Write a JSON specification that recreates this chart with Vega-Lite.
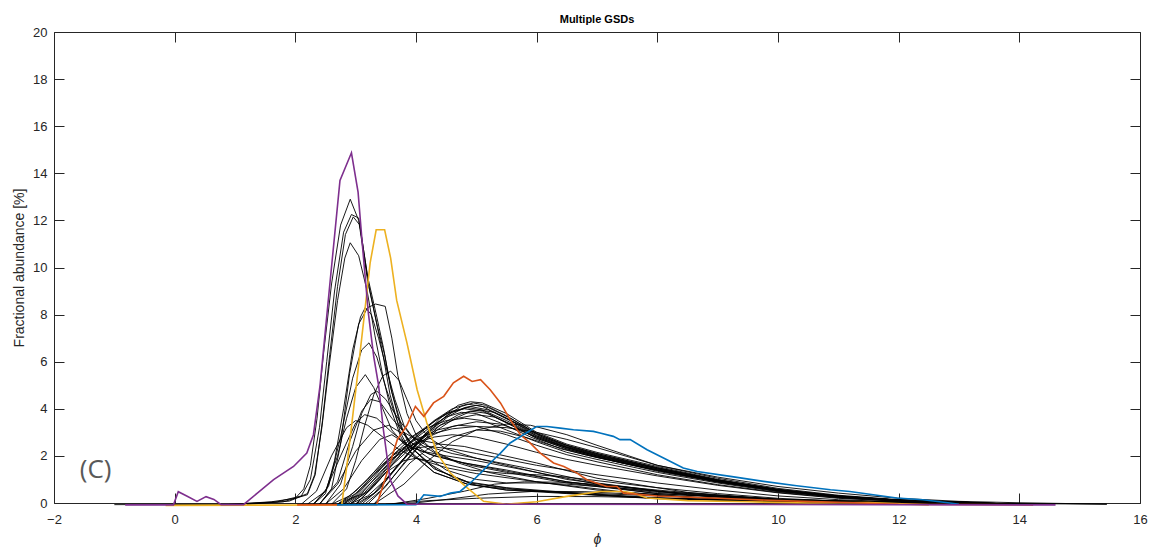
{
"$schema":"https://vega.github.io/schema/vega-lite/v6.json",
"width":1086,"height":471,
"autosize":{"type":"none"},
"padding":{"left":54,"top":32,"right":23,"bottom":48},
"background":"#ffffff",
"title":{"text":"Multiple GSDs","font":"Liberation Sans","fontSize":11,"fontWeight":"bold","color":"#000000","offset":1,"anchor":"middle"},
"config":{"view":{"stroke":null},"axis":{"grid":false,"domainColor":"#262626","tickColor":"#262626","labelColor":"#262626","titleColor":"#262626","labelFont":"Liberation Sans","titleFont":"Liberation Sans","labelFontSize":13,"titleFontSize":14,"titleFontWeight":"normal","tickSize":-10,"domainWidth":1,"tickWidth":1}},
"datasets":{
"k":[
{"s":"T1","x":-1.0,"y":-0.07},{"s":"T1","x":0.9,"y":-0.06},{"s":"T1","x":1.6,"y":0.05},{"s":"T1","x":2.0,"y":0.2},{"s":"T1","x":2.14,"y":0.6},{"s":"T1","x":2.25,"y":1.6},{"s":"T1","x":2.36,"y":3.6},{"s":"T1","x":2.47,"y":6.4},{"s":"T1","x":2.6,"y":9.3},{"s":"T1","x":2.75,"y":11.8},{"s":"T1","x":2.91,"y":12.9},{"s":"T1","x":3.05,"y":12.0},{"s":"T1","x":3.2,"y":9.4},{"s":"T1","x":3.35,"y":7.6},{"s":"T1","x":3.46,"y":6.2},{"s":"T1","x":3.57,"y":4.6},{"s":"T1","x":3.74,"y":3.0},{"s":"T1","x":3.9,"y":2.2},{"s":"T1","x":4.3,"y":1.3},{"s":"T1","x":4.85,"y":0.8},{"s":"T1","x":5.5,"y":0.6},{"s":"T1","x":6.5,"y":0.42},{"s":"T1","x":8,"y":0.2},{"s":"T1","x":10,"y":0.06},{"s":"T1","x":12,"y":0.01},{"s":"T1","x":15.45,"y":-0.05},
{"s":"T2","x":0.9,"y":-0.06},{"s":"T2","x":1.7,"y":0.05},{"s":"T2","x":2.1,"y":0.3},{"s":"T2","x":2.25,"y":1.0},{"s":"T2","x":2.4,"y":3.2},{"s":"T2","x":2.52,"y":6.0},{"s":"T2","x":2.65,"y":9.0},{"s":"T2","x":2.8,"y":11.5},{"s":"T2","x":2.93,"y":12.25},{"s":"T2","x":3.05,"y":12.1},{"s":"T2","x":3.2,"y":9.6},{"s":"T2","x":3.35,"y":7.9},{"s":"T2","x":3.46,"y":6.6},{"s":"T2","x":3.57,"y":5.0},{"s":"T2","x":3.74,"y":3.3},{"s":"T2","x":3.9,"y":2.4},{"s":"T2","x":4.3,"y":1.45},{"s":"T2","x":4.85,"y":0.9},{"s":"T2","x":5.5,"y":0.65},{"s":"T2","x":6.5,"y":0.45},{"s":"T2","x":8,"y":0.22},{"s":"T2","x":10,"y":0.07},{"s":"T2","x":12,"y":0.01},{"s":"T2","x":13.5,"y":-0.05},
{"s":"T3","x":1.0,"y":-0.06},{"s":"T3","x":1.8,"y":0.05},{"s":"T3","x":2.2,"y":0.35},{"s":"T3","x":2.33,"y":1.2},{"s":"T3","x":2.45,"y":3.5},{"s":"T3","x":2.57,"y":6.3},{"s":"T3","x":2.7,"y":9.2},{"s":"T3","x":2.83,"y":11.4},{"s":"T3","x":2.96,"y":12.15},{"s":"T3","x":3.07,"y":11.8},{"s":"T3","x":3.22,"y":9.2},{"s":"T3","x":3.36,"y":7.5},{"s":"T3","x":3.48,"y":6.3},{"s":"T3","x":3.6,"y":4.7},{"s":"T3","x":3.78,"y":3.1},{"s":"T3","x":3.95,"y":2.3},{"s":"T3","x":4.35,"y":1.4},{"s":"T3","x":4.9,"y":0.85},{"s":"T3","x":5.6,"y":0.6},{"s":"T3","x":6.5,"y":0.42},{"s":"T3","x":8,"y":0.2},{"s":"T3","x":10,"y":0.06},{"s":"T3","x":12,"y":0.01},{"s":"T3","x":13.5,"y":-0.05},
{"s":"T4","x":1.2,"y":-0.06},{"s":"T4","x":1.9,"y":0.08},{"s":"T4","x":2.2,"y":0.4},{"s":"T4","x":2.32,"y":1.2},{"s":"T4","x":2.44,"y":3.2},{"s":"T4","x":2.56,"y":5.8},{"s":"T4","x":2.7,"y":8.6},{"s":"T4","x":2.82,"y":10.4},{"s":"T4","x":2.91,"y":11.05},{"s":"T4","x":3.05,"y":10.5},{"s":"T4","x":3.19,"y":9.0},{"s":"T4","x":3.32,"y":7.1},{"s":"T4","x":3.45,"y":5.4},{"s":"T4","x":3.58,"y":4.0},{"s":"T4","x":3.75,"y":2.8},{"s":"T4","x":3.92,"y":2.1},{"s":"T4","x":4.3,"y":1.3},{"s":"T4","x":4.85,"y":0.8},{"s":"T4","x":5.5,"y":0.55},{"s":"T4","x":6.5,"y":0.4},{"s":"T4","x":8,"y":0.18},{"s":"T4","x":10,"y":0.05},{"s":"T4","x":13.2,"y":-0.05},
{"s":"B1","x":2.4,"y":-0.05},{"s":"B1","x":2.6,"y":0.6},{"s":"B1","x":2.75,"y":2.5},{"s":"B1","x":2.9,"y":5.5},{"s":"B1","x":3.05,"y":7.6},{"s":"B1","x":3.2,"y":8.3},{"s":"B1","x":3.33,"y":8.45},{"s":"B1","x":3.49,"y":8.35},{"s":"B1","x":3.6,"y":7.0},{"s":"B1","x":3.7,"y":5.4},{"s":"B1","x":3.85,"y":3.8},{"s":"B1","x":4.0,"y":2.9},{"s":"B1","x":4.3,"y":2.2},{"s":"B1","x":4.7,"y":1.7},{"s":"B1","x":5.2,"y":1.3},{"s":"B1","x":6,"y":0.9},{"s":"B1","x":7,"y":0.55},{"s":"B1","x":8.5,"y":0.25},{"s":"B1","x":10,"y":0.1},{"s":"B1","x":12,"y":0.02},{"s":"B1","x":14,"y":-0.05},
{"s":"B1b","x":2.3,"y":-0.05},{"s":"B1b","x":2.5,"y":0.4},{"s":"B1b","x":2.65,"y":1.8},{"s":"B1b","x":2.8,"y":4.0},{"s":"B1b","x":2.95,"y":6.5},{"s":"B1b","x":3.08,"y":7.9},{"s":"B1b","x":3.16,"y":8.3},{"s":"B1b","x":3.26,"y":8.0},{"s":"B1b","x":3.38,"y":7.0},{"s":"B1b","x":3.5,"y":5.8},{"s":"B1b","x":3.65,"y":4.4},{"s":"B1b","x":3.8,"y":3.3},{"s":"B1b","x":4.0,"y":2.6},{"s":"B1b","x":4.4,"y":2.0},{"s":"B1b","x":4.9,"y":1.6},{"s":"B1b","x":5.5,"y":1.3},{"s":"B1b","x":6.5,"y":0.85},{"s":"B1b","x":8,"y":0.4},{"s":"B1b","x":10,"y":0.12},{"s":"B1b","x":12,"y":0.02},{"s":"B1b","x":13.5,"y":-0.05},
{"s":"B2","x":2.3,"y":-0.05},{"s":"B2","x":2.55,"y":0.7},{"s":"B2","x":2.75,"y":2.8},{"s":"B2","x":2.95,"y":5.3},{"s":"B2","x":3.1,"y":6.5},{"s":"B2","x":3.22,"y":6.8},{"s":"B2","x":3.35,"y":6.2},{"s":"B2","x":3.5,"y":4.9},{"s":"B2","x":3.7,"y":3.4},{"s":"B2","x":3.9,"y":2.6},{"s":"B2","x":4.2,"y":2.1},{"s":"B2","x":4.6,"y":1.8},{"s":"B2","x":5.0,"y":1.6},{"s":"B2","x":5.5,"y":1.35},{"s":"B2","x":6.5,"y":0.9},{"s":"B2","x":8,"y":0.45},{"s":"B2","x":10,"y":0.15},{"s":"B2","x":12,"y":0.04},{"s":"B2","x":14,"y":-0.05},
{"s":"B3","x":2.6,"y":-0.05},{"s":"B3","x":2.85,"y":0.6},{"s":"B3","x":3.0,"y":1.8},{"s":"B3","x":3.15,"y":3.3},{"s":"B3","x":3.3,"y":4.6},{"s":"B3","x":3.45,"y":5.4},{"s":"B3","x":3.58,"y":5.6},{"s":"B3","x":3.72,"y":5.2},{"s":"B3","x":3.85,"y":4.4},{"s":"B3","x":4.0,"y":3.5},{"s":"B3","x":4.2,"y":2.8},{"s":"B3","x":4.5,"y":2.3},{"s":"B3","x":5.0,"y":1.9},{"s":"B3","x":5.5,"y":1.6},{"s":"B3","x":6.5,"y":1.0},{"s":"B3","x":8,"y":0.5},{"s":"B3","x":10,"y":0.15},{"s":"B3","x":12,"y":0.03},{"s":"B3","x":14,"y":-0.05},
{"s":"B4","x":2.3,"y":-0.05},{"s":"B4","x":2.5,"y":0.5},{"s":"B4","x":2.7,"y":2.0},{"s":"B4","x":2.85,"y":3.6},{"s":"B4","x":3.0,"y":4.9},{"s":"B4","x":3.16,"y":5.45},{"s":"B4","x":3.3,"y":4.9},{"s":"B4","x":3.45,"y":4.0},{"s":"B4","x":3.6,"y":3.1},{"s":"B4","x":3.8,"y":2.5},{"s":"B4","x":4.1,"y":2.2},{"s":"B4","x":4.5,"y":2.0},{"s":"B4","x":5.0,"y":1.8},{"s":"B4","x":5.8,"y":1.4},{"s":"B4","x":7,"y":0.8},{"s":"B4","x":8.5,"y":0.35},{"s":"B4","x":10,"y":0.12},{"s":"B4","x":12,"y":0.02},{"s":"B4","x":14,"y":-0.05},
{"s":"B5","x":2.5,"y":-0.05},{"s":"B5","x":2.75,"y":0.8},{"s":"B5","x":2.95,"y":2.4},{"s":"B5","x":3.1,"y":3.8},{"s":"B5","x":3.25,"y":4.6},{"s":"B5","x":3.35,"y":4.75},{"s":"B5","x":3.5,"y":4.4},{"s":"B5","x":3.7,"y":3.6},{"s":"B5","x":3.9,"y":2.9},{"s":"B5","x":4.2,"y":2.4},{"s":"B5","x":4.6,"y":2.1},{"s":"B5","x":5.0,"y":1.9},{"s":"B5","x":5.8,"y":1.5},{"s":"B5","x":7,"y":0.85},{"s":"B5","x":8.5,"y":0.35},{"s":"B5","x":10,"y":0.1},{"s":"B5","x":12,"y":0.02},{"s":"B5","x":14,"y":-0.05},
{"s":"B6","x":2.4,"y":-0.05},{"s":"B6","x":2.7,"y":0.9},{"s":"B6","x":2.9,"y":2.6},{"s":"B6","x":3.1,"y":3.9},{"s":"B6","x":3.25,"y":4.4},{"s":"B6","x":3.4,"y":4.3},{"s":"B6","x":3.6,"y":3.6},{"s":"B6","x":3.8,"y":3.0},{"s":"B6","x":4.0,"y":2.7},{"s":"B6","x":4.4,"y":2.5},{"s":"B6","x":4.8,"y":2.4},{"s":"B6","x":5.3,"y":2.1},{"s":"B6","x":6,"y":1.7},{"s":"B6","x":7,"y":1.05},{"s":"B6","x":8.5,"y":0.45},{"s":"B6","x":10,"y":0.15},{"s":"B6","x":12,"y":0.03},{"s":"B6","x":14,"y":-0.05},
{"s":"B7","x":2.2,"y":-0.05},{"s":"B7","x":2.5,"y":0.5},{"s":"B7","x":2.75,"y":2.0},{"s":"B7","x":3.0,"y":3.4},{"s":"B7","x":3.15,"y":3.75},{"s":"B7","x":3.35,"y":3.6},{"s":"B7","x":3.6,"y":3.0},{"s":"B7","x":3.9,"y":2.4},{"s":"B7","x":4.3,"y":2.0},{"s":"B7","x":4.8,"y":1.7},{"s":"B7","x":5.5,"y":1.4},{"s":"B7","x":6.5,"y":0.9},{"s":"B7","x":8,"y":0.4},{"s":"B7","x":10,"y":0.12},{"s":"B7","x":12,"y":0.02},{"s":"B7","x":14,"y":-0.05},
{"s":"B8","x":2.1,"y":-0.05},{"s":"B8","x":2.35,"y":0.5},{"s":"B8","x":2.6,"y":2.0},{"s":"B8","x":2.85,"y":3.2},{"s":"B8","x":3.0,"y":3.5},{"s":"B8","x":3.2,"y":3.3},{"s":"B8","x":3.45,"y":2.8},{"s":"B8","x":3.7,"y":2.3},{"s":"B8","x":4.0,"y":1.9},{"s":"B8","x":4.5,"y":1.5},{"s":"B8","x":5,"y":1.25},{"s":"B8","x":6,"y":0.9},{"s":"B8","x":7.5,"y":0.45},{"s":"B8","x":9,"y":0.18},{"s":"B8","x":11,"y":0.04},{"s":"B8","x":13,"y":-0.05},
{"s":"C1","x":2.9,"y":-0.05},{"s":"C1","x":3.2,"y":0.3},{"s":"C1","x":3.5,"y":1.0},{"s":"C1","x":3.8,"y":1.9},{"s":"C1","x":4.1,"y":2.8},{"s":"C1","x":4.4,"y":3.6},{"s":"C1","x":4.7,"y":4.15},{"s":"C1","x":4.9,"y":4.3},{"s":"C1","x":5.1,"y":4.25},{"s":"C1","x":5.5,"y":3.8},{"s":"C1","x":6.0,"y":3.0},{"s":"C1","x":6.5,"y":2.5},{"s":"C1","x":7.0,"y":2.15},{"s":"C1","x":8.0,"y":1.55},{"s":"C1","x":9.0,"y":1.0},{"s":"C1","x":10,"y":0.58},{"s":"C1","x":11,"y":0.3},{"s":"C1","x":12,"y":0.12},{"s":"C1","x":13,"y":0.04},{"s":"C1","x":13.7,"y":-0.03},
{"s":"C2","x":3.0,"y":-0.05},{"s":"C2","x":3.3,"y":0.4},{"s":"C2","x":3.6,"y":1.3},{"s":"C2","x":3.9,"y":2.2},{"s":"C2","x":4.2,"y":3.0},{"s":"C2","x":4.5,"y":3.7},{"s":"C2","x":4.75,"y":4.1},{"s":"C2","x":4.95,"y":4.25},{"s":"C2","x":5.15,"y":4.15},{"s":"C2","x":5.5,"y":3.7},{"s":"C2","x":6.0,"y":2.95},{"s":"C2","x":6.5,"y":2.45},{"s":"C2","x":7.0,"y":2.1},{"s":"C2","x":8.0,"y":1.5},{"s":"C2","x":9.0,"y":0.98},{"s":"C2","x":10,"y":0.56},{"s":"C2","x":11,"y":0.29},{"s":"C2","x":12,"y":0.12},{"s":"C2","x":13,"y":0.04},{"s":"C2","x":13.7,"y":-0.03},
{"s":"C3","x":2.8,"y":-0.05},{"s":"C3","x":3.1,"y":0.4},{"s":"C3","x":3.4,"y":1.3},{"s":"C3","x":3.7,"y":2.1},{"s":"C3","x":4.0,"y":2.8},{"s":"C3","x":4.3,"y":3.5},{"s":"C3","x":4.6,"y":4.0},{"s":"C3","x":4.85,"y":4.2},{"s":"C3","x":5.1,"y":4.1},{"s":"C3","x":5.5,"y":3.6},{"s":"C3","x":6.0,"y":2.9},{"s":"C3","x":6.5,"y":2.4},{"s":"C3","x":7.0,"y":2.05},{"s":"C3","x":8.0,"y":1.45},{"s":"C3","x":9.0,"y":0.95},{"s":"C3","x":10,"y":0.55},{"s":"C3","x":11,"y":0.28},{"s":"C3","x":12,"y":0.11},{"s":"C3","x":13,"y":0.03},{"s":"C3","x":13.6,"y":-0.03},
{"s":"C4","x":3.1,"y":-0.05},{"s":"C4","x":3.4,"y":0.6},{"s":"C4","x":3.7,"y":1.6},{"s":"C4","x":4.0,"y":2.5},{"s":"C4","x":4.3,"y":3.3},{"s":"C4","x":4.6,"y":3.85},{"s":"C4","x":4.9,"y":4.1},{"s":"C4","x":5.2,"y":3.95},{"s":"C4","x":5.6,"y":3.45},{"s":"C4","x":6.0,"y":2.85},{"s":"C4","x":6.5,"y":2.35},{"s":"C4","x":7.0,"y":2.0},{"s":"C4","x":8.0,"y":1.4},{"s":"C4","x":9.0,"y":0.9},{"s":"C4","x":10,"y":0.52},{"s":"C4","x":11,"y":0.26},{"s":"C4","x":12,"y":0.1},{"s":"C4","x":13,"y":0.03},{"s":"C4","x":13.6,"y":-0.03},
{"s":"C5","x":2.7,"y":-0.05},{"s":"C5","x":3.0,"y":0.3},{"s":"C5","x":3.3,"y":1.1},{"s":"C5","x":3.6,"y":2.0},{"s":"C5","x":3.9,"y":2.7},{"s":"C5","x":4.2,"y":3.3},{"s":"C5","x":4.5,"y":3.8},{"s":"C5","x":4.8,"y":4.0},{"s":"C5","x":5.1,"y":3.9},{"s":"C5","x":5.5,"y":3.4},{"s":"C5","x":6.0,"y":2.75},{"s":"C5","x":6.5,"y":2.3},{"s":"C5","x":7.0,"y":1.95},{"s":"C5","x":8.0,"y":1.35},{"s":"C5","x":9.0,"y":0.88},{"s":"C5","x":10,"y":0.5},{"s":"C5","x":11,"y":0.25},{"s":"C5","x":12,"y":0.1},{"s":"C5","x":13,"y":0.03},{"s":"C5","x":13.5,"y":-0.03},
{"s":"C6","x":3.2,"y":-0.05},{"s":"C6","x":3.5,"y":0.7},{"s":"C6","x":3.8,"y":1.7},{"s":"C6","x":4.1,"y":2.6},{"s":"C6","x":4.4,"y":3.3},{"s":"C6","x":4.7,"y":3.75},{"s":"C6","x":4.9,"y":3.9},{"s":"C6","x":5.2,"y":3.8},{"s":"C6","x":5.6,"y":3.3},{"s":"C6","x":6.0,"y":2.75},{"s":"C6","x":6.5,"y":2.3},{"s":"C6","x":7.0,"y":1.95},{"s":"C6","x":8.0,"y":1.4},{"s":"C6","x":9.0,"y":0.92},{"s":"C6","x":10,"y":0.54},{"s":"C6","x":11,"y":0.27},{"s":"C6","x":12,"y":0.11},{"s":"C6","x":13,"y":0.03},{"s":"C6","x":13.6,"y":-0.03},
{"s":"C7","x":2.9,"y":-0.05},{"s":"C7","x":3.2,"y":0.5},{"s":"C7","x":3.5,"y":1.4},{"s":"C7","x":3.8,"y":2.2},{"s":"C7","x":4.1,"y":2.8},{"s":"C7","x":4.4,"y":3.3},{"s":"C7","x":4.7,"y":3.6},{"s":"C7","x":5.0,"y":3.75},{"s":"C7","x":5.3,"y":3.65},{"s":"C7","x":5.7,"y":3.2},{"s":"C7","x":6.0,"y":2.8},{"s":"C7","x":6.5,"y":2.35},{"s":"C7","x":7.0,"y":2.0},{"s":"C7","x":8.0,"y":1.45},{"s":"C7","x":9.0,"y":0.95},{"s":"C7","x":10,"y":0.56},{"s":"C7","x":11,"y":0.29},{"s":"C7","x":12,"y":0.12},{"s":"C7","x":13,"y":0.04},{"s":"C7","x":13.7,"y":-0.03},
{"s":"C8","x":2.6,"y":-0.05},{"s":"C8","x":2.9,"y":0.3},{"s":"C8","x":3.2,"y":1.0},{"s":"C8","x":3.5,"y":1.9},{"s":"C8","x":3.8,"y":2.6},{"s":"C8","x":4.1,"y":3.1},{"s":"C8","x":4.5,"y":3.5},{"s":"C8","x":4.8,"y":3.6},{"s":"C8","x":5.1,"y":3.5},{"s":"C8","x":5.5,"y":3.1},{"s":"C8","x":6.0,"y":2.6},{"s":"C8","x":6.5,"y":2.15},{"s":"C8","x":7.0,"y":1.85},{"s":"C8","x":8.0,"y":1.3},{"s":"C8","x":9.0,"y":0.85},{"s":"C8","x":10,"y":0.48},{"s":"C8","x":11,"y":0.24},{"s":"C8","x":12,"y":0.09},{"s":"C8","x":13,"y":0.02},{"s":"C8","x":13.5,"y":-0.03},
{"s":"C9","x":3.0,"y":-0.05},{"s":"C9","x":3.3,"y":0.7},{"s":"C9","x":3.6,"y":1.6},{"s":"C9","x":3.9,"y":2.3},{"s":"C9","x":4.2,"y":2.8},{"s":"C9","x":4.6,"y":3.25},{"s":"C9","x":5.0,"y":3.45},{"s":"C9","x":5.4,"y":3.35},{"s":"C9","x":5.8,"y":3.0},{"s":"C9","x":6.2,"y":2.6},{"s":"C9","x":6.7,"y":2.2},{"s":"C9","x":7.2,"y":1.85},{"s":"C9","x":8.0,"y":1.4},{"s":"C9","x":9.0,"y":0.92},{"s":"C9","x":10,"y":0.55},{"s":"C9","x":11,"y":0.28},{"s":"C9","x":12,"y":0.12},{"s":"C9","x":13,"y":0.04},{"s":"C9","x":13.7,"y":-0.03},
{"s":"C10","x":2.8,"y":-0.05},{"s":"C10","x":3.1,"y":0.6},{"s":"C10","x":3.4,"y":1.5},{"s":"C10","x":3.7,"y":2.2},{"s":"C10","x":4.0,"y":2.7},{"s":"C10","x":4.35,"y":3.1},{"s":"C10","x":4.7,"y":3.3},{"s":"C10","x":5.0,"y":3.25},{"s":"C10","x":5.5,"y":2.9},{"s":"C10","x":6.0,"y":2.45},{"s":"C10","x":6.5,"y":2.05},{"s":"C10","x":7.0,"y":1.75},{"s":"C10","x":8.0,"y":1.2},{"s":"C10","x":9.0,"y":0.78},{"s":"C10","x":10,"y":0.45},{"s":"C10","x":11,"y":0.22},{"s":"C10","x":12,"y":0.08},{"s":"C10","x":13,"y":0.02},{"s":"C10","x":13.4,"y":-0.03},
{"s":"C11","x":3.3,"y":-0.05},{"s":"C11","x":3.6,"y":0.8},{"s":"C11","x":3.9,"y":1.7},{"s":"C11","x":4.2,"y":2.3},{"s":"C11","x":4.6,"y":2.8},{"s":"C11","x":5.0,"y":3.1},{"s":"C11","x":5.4,"y":3.05},{"s":"C11","x":5.8,"y":2.8},{"s":"C11","x":6.3,"y":2.4},{"s":"C11","x":6.8,"y":2.05},{"s":"C11","x":7.5,"y":1.65},{"s":"C11","x":8.5,"y":1.15},{"s":"C11","x":9.5,"y":0.72},{"s":"C11","x":10.5,"y":0.4},{"s":"C11","x":11.5,"y":0.19},{"s":"C11","x":12.5,"y":0.07},{"s":"C11","x":13.5,"y":-0.03},
{"s":"C12","x":2.7,"y":-0.05},{"s":"C12","x":3.0,"y":0.5},{"s":"C12","x":3.3,"y":1.3},{"s":"C12","x":3.6,"y":2.0},{"s":"C12","x":4.0,"y":2.55},{"s":"C12","x":4.3,"y":2.8},{"s":"C12","x":4.6,"y":2.9},{"s":"C12","x":5.0,"y":2.8},{"s":"C12","x":5.5,"y":2.5},{"s":"C12","x":6.0,"y":2.15},{"s":"C12","x":6.5,"y":1.85},{"s":"C12","x":7.0,"y":1.6},{"s":"C12","x":8.0,"y":1.15},{"s":"C12","x":9.0,"y":0.75},{"s":"C12","x":10,"y":0.43},{"s":"C12","x":11,"y":0.2},{"s":"C12","x":12,"y":0.07},{"s":"C12","x":13.3,"y":-0.03},
{"s":"C13","x":3.05,"y":-0.05},{"s":"C13","x":3.35,"y":0.5},{"s":"C13","x":3.65,"y":1.4},{"s":"C13","x":3.95,"y":2.3},{"s":"C13","x":4.25,"y":3.1},{"s":"C13","x":4.55,"y":3.7},{"s":"C13","x":4.8,"y":4.05},{"s":"C13","x":5.0,"y":4.15},{"s":"C13","x":5.2,"y":4.05},{"s":"C13","x":5.6,"y":3.55},{"s":"C13","x":6.0,"y":2.95},{"s":"C13","x":6.5,"y":2.45},{"s":"C13","x":7.0,"y":2.1},{"s":"C13","x":8.0,"y":1.5},{"s":"C13","x":9.0,"y":0.97},{"s":"C13","x":10,"y":0.56},{"s":"C13","x":11,"y":0.29},{"s":"C13","x":12,"y":0.12},{"s":"C13","x":13,"y":0.04},{"s":"C13","x":13.7,"y":-0.03},
{"s":"C14","x":2.85,"y":-0.05},{"s":"C14","x":3.15,"y":0.45},{"s":"C14","x":3.45,"y":1.3},{"s":"C14","x":3.75,"y":2.2},{"s":"C14","x":4.05,"y":2.95},{"s":"C14","x":4.35,"y":3.55},{"s":"C14","x":4.6,"y":3.9},{"s":"C14","x":4.85,"y":4.05},{"s":"C14","x":5.1,"y":3.95},{"s":"C14","x":5.5,"y":3.5},{"s":"C14","x":6.0,"y":2.85},{"s":"C14","x":6.5,"y":2.38},{"s":"C14","x":7.0,"y":2.03},{"s":"C14","x":8.0,"y":1.45},{"s":"C14","x":9.0,"y":0.93},{"s":"C14","x":10,"y":0.53},{"s":"C14","x":11,"y":0.27},{"s":"C14","x":12,"y":0.11},{"s":"C14","x":13,"y":0.03},{"s":"C14","x":13.6,"y":-0.03},
{"s":"C15","x":3.15,"y":-0.05},{"s":"C15","x":3.45,"y":0.6},{"s":"C15","x":3.75,"y":1.5},{"s":"C15","x":4.05,"y":2.4},{"s":"C15","x":4.35,"y":3.1},{"s":"C15","x":4.65,"y":3.6},{"s":"C15","x":4.9,"y":3.88},{"s":"C15","x":5.05,"y":3.95},{"s":"C15","x":5.3,"y":3.85},{"s":"C15","x":5.7,"y":3.35},{"s":"C15","x":6.1,"y":2.8},{"s":"C15","x":6.6,"y":2.35},{"s":"C15","x":7.1,"y":2.0},{"s":"C15","x":8.0,"y":1.48},{"s":"C15","x":9.0,"y":0.98},{"s":"C15","x":10,"y":0.58},{"s":"C15","x":11,"y":0.3},{"s":"C15","x":12,"y":0.13},{"s":"C15","x":13,"y":0.04},{"s":"C15","x":13.7,"y":-0.03},
{"s":"C16","x":2.75,"y":-0.05},{"s":"C16","x":3.05,"y":0.35},{"s":"C16","x":3.35,"y":1.1},{"s":"C16","x":3.65,"y":1.95},{"s":"C16","x":3.95,"y":2.65},{"s":"C16","x":4.25,"y":3.25},{"s":"C16","x":4.5,"y":3.65},{"s":"C16","x":4.75,"y":3.85},{"s":"C16","x":5.0,"y":3.8},{"s":"C16","x":5.4,"y":3.4},{"s":"C16","x":5.9,"y":2.8},{"s":"C16","x":6.4,"y":2.3},{"s":"C16","x":7.0,"y":1.93},{"s":"C16","x":8.0,"y":1.38},{"s":"C16","x":9.0,"y":0.9},{"s":"C16","x":10,"y":0.52},{"s":"C16","x":11,"y":0.26},{"s":"C16","x":12,"y":0.1},{"s":"C16","x":13,"y":0.03},{"s":"C16","x":13.5,"y":-0.03},
{"s":"D1","x":2.7,"y":-0.05},{"s":"D1","x":3.0,"y":0.4},{"s":"D1","x":3.3,"y":1.2},{"s":"D1","x":3.6,"y":1.9},{"s":"D1","x":3.9,"y":2.3},{"s":"D1","x":4.2,"y":2.4},{"s":"D1","x":4.6,"y":2.3},{"s":"D1","x":5.0,"y":2.1},{"s":"D1","x":5.5,"y":1.85},{"s":"D1","x":6.0,"y":1.6},{"s":"D1","x":6.5,"y":1.4},{"s":"D1","x":7.0,"y":1.2},{"s":"D1","x":8.0,"y":0.85},{"s":"D1","x":9.0,"y":0.55},{"s":"D1","x":10,"y":0.3},{"s":"D1","x":11,"y":0.14},{"s":"D1","x":12,"y":0.05},{"s":"D1","x":13,"y":-0.03},
{"s":"D2","x":2.9,"y":-0.05},{"s":"D2","x":3.2,"y":0.5},{"s":"D2","x":3.5,"y":1.3},{"s":"D2","x":3.8,"y":1.8},{"s":"D2","x":4.0,"y":1.9},{"s":"D2","x":4.4,"y":1.7},{"s":"D2","x":4.9,"y":1.4},{"s":"D2","x":5.5,"y":1.25},{"s":"D2","x":6.0,"y":1.2},{"s":"D2","x":6.5,"y":1.1},{"s":"D2","x":7.0,"y":0.95},{"s":"D2","x":8.0,"y":0.65},{"s":"D2","x":9.0,"y":0.4},{"s":"D2","x":10,"y":0.2},{"s":"D2","x":11,"y":0.08},{"s":"D2","x":12,"y":0.02},{"s":"D2","x":12.5,"y":-0.03},
{"s":"D3","x":2.5,"y":-0.05},{"s":"D3","x":2.8,"y":0.6},{"s":"D3","x":3.1,"y":1.8},{"s":"D3","x":3.4,"y":2.7},{"s":"D3","x":3.6,"y":2.9},{"s":"D3","x":3.9,"y":2.4},{"s":"D3","x":4.2,"y":1.7},{"s":"D3","x":4.6,"y":1.1},{"s":"D3","x":5.0,"y":0.75},{"s":"D3","x":5.5,"y":0.55},{"s":"D3","x":6.5,"y":0.45},{"s":"D3","x":7.5,"y":0.35},{"s":"D3","x":9,"y":0.2},{"s":"D3","x":10.5,"y":0.08},{"s":"D3","x":12,"y":0.02},{"s":"D3","x":13,"y":-0.03},
{"s":"D4","x":2.4,"y":-0.05},{"s":"D4","x":2.7,"y":0.8},{"s":"D4","x":3.0,"y":2.2},{"s":"D4","x":3.3,"y":3.1},{"s":"D4","x":3.55,"y":3.3},{"s":"D4","x":3.8,"y":2.9},{"s":"D4","x":4.1,"y":2.1},{"s":"D4","x":4.5,"y":1.4},{"s":"D4","x":5.0,"y":1.0},{"s":"D4","x":5.5,"y":0.85},{"s":"D4","x":6.0,"y":0.85},{"s":"D4","x":6.5,"y":0.8},{"s":"D4","x":7.5,"y":0.6},{"s":"D4","x":9,"y":0.3},{"s":"D4","x":10.5,"y":0.1},{"s":"D4","x":12,"y":0.02},{"s":"D4","x":13,"y":-0.03},
{"s":"E1","x":3.6,"y":-0.05},{"s":"E1","x":4.2,"y":0.2},{"s":"E1","x":4.8,"y":0.5},{"s":"E1","x":5.3,"y":0.8},{"s":"E1","x":5.8,"y":0.9},{"s":"E1","x":6.5,"y":0.88},{"s":"E1","x":7.2,"y":0.75},{"s":"E1","x":8.0,"y":0.55},{"s":"E1","x":9,"y":0.33},{"s":"E1","x":10,"y":0.16},{"s":"E1","x":11,"y":0.06},{"s":"E1","x":12,"y":0.0},{"s":"E1","x":13,"y":-0.03},
{"s":"E2","x":3.8,"y":-0.05},{"s":"E2","x":4.5,"y":0.15},{"s":"E2","x":5.2,"y":0.38},{"s":"E2","x":6.0,"y":0.5},{"s":"E2","x":6.8,"y":0.48},{"s":"E2","x":7.6,"y":0.38},{"s":"E2","x":8.5,"y":0.25},{"s":"E2","x":9.5,"y":0.12},{"s":"E2","x":10.5,"y":0.04},{"s":"E2","x":11.5,"y":-0.02},
{"s":"E3","x":3.5,"y":-0.05},{"s":"E3","x":4.2,"y":0.1},{"s":"E3","x":5.0,"y":0.2},{"s":"E3","x":6.0,"y":0.28},{"s":"E3","x":7,"y":0.27},{"s":"E3","x":8,"y":0.22},{"s":"E3","x":9,"y":0.15},{"s":"E3","x":10,"y":0.08},{"s":"E3","x":11,"y":0.03},{"s":"E3","x":12,"y":-0.02},
{"s":"F1","x":3.3,"y":-0.05},{"s":"F1","x":3.8,"y":0.8},{"s":"F1","x":4.2,"y":1.8},{"s":"F1","x":4.6,"y":2.6},{"s":"F1","x":5.0,"y":3.1},{"s":"F1","x":5.5,"y":3.35},{"s":"F1","x":5.9,"y":3.3},{"s":"F1","x":6.5,"y":2.9},{"s":"F1","x":7.0,"y":2.45},{"s":"F1","x":8.0,"y":1.6},{"s":"F1","x":9.0,"y":1.1},{"s":"F1","x":10.0,"y":0.7},{"s":"F1","x":11,"y":0.42},{"s":"F1","x":12,"y":0.2},{"s":"F1","x":13,"y":0.07},{"s":"F1","x":14,"y":0.01},{"s":"F1","x":15.45,"y":-0.05},
{"s":"F2","x":3.0,"y":-0.05},{"s":"F2","x":3.4,"y":1.0},{"s":"F2","x":3.8,"y":2.2},{"s":"F2","x":4.2,"y":2.9},{"s":"F2","x":4.6,"y":3.15},{"s":"F2","x":5.0,"y":3.25},{"s":"F2","x":5.5,"y":3.2},{"s":"F2","x":6.0,"y":3.0},{"s":"F2","x":6.5,"y":2.7},{"s":"F2","x":7.0,"y":2.35},{"s":"F2","x":8.0,"y":1.6},{"s":"F2","x":9.0,"y":1.05},{"s":"F2","x":10,"y":0.62},{"s":"F2","x":11,"y":0.33},{"s":"F2","x":12,"y":0.14},{"s":"F2","x":13,"y":0.04},{"s":"F2","x":13.8,"y":-0.03}
],
"c":[
{"s":"yellow","x":-0.15,"y":-0.1},{"s":"yellow","x":2.77,"y":-0.08},{"s":"yellow","x":2.86,"y":1.7},{"s":"yellow","x":3.02,"y":5.2},{"s":"yellow","x":3.16,"y":8.35},{"s":"yellow","x":3.24,"y":10.2},{"s":"yellow","x":3.34,"y":11.6},{"s":"yellow","x":3.48,"y":11.6},{"s":"yellow","x":3.58,"y":10.4},{"s":"yellow","x":3.68,"y":8.6},{"s":"yellow","x":3.85,"y":6.8},{"s":"yellow","x":4.02,"y":4.8},{"s":"yellow","x":4.18,"y":3.4},{"s":"yellow","x":4.35,"y":2.12},{"s":"yellow","x":4.57,"y":1.27},{"s":"yellow","x":4.85,"y":0.64},{"s":"yellow","x":5.12,"y":0.07},{"s":"yellow","x":5.5,"y":-0.05},{"s":"yellow","x":6.0,"y":0.05},{"s":"yellow","x":6.5,"y":0.28},{"s":"yellow","x":7.05,"y":0.49},{"s":"yellow","x":7.44,"y":0.49},{"s":"yellow","x":7.6,"y":0.42},{"s":"yellow","x":7.83,"y":0.21},{"s":"yellow","x":8.5,"y":0.1},{"s":"yellow","x":9.5,"y":0.05},{"s":"yellow","x":10.5,"y":0.0},{"s":"yellow","x":11.5,"y":0.02},{"s":"yellow","x":12.5,"y":-0.08},
{"s":"orange","x":2.03,"y":-0.08},{"s":"orange","x":3.35,"y":-0.07},{"s":"orange","x":3.52,"y":1.27},{"s":"orange","x":3.69,"y":2.69},{"s":"orange","x":3.85,"y":3.3},{"s":"orange","x":3.99,"y":4.1},{"s":"orange","x":4.13,"y":3.68},{"s":"orange","x":4.29,"y":4.25},{"s":"orange","x":4.46,"y":4.53},{"s":"orange","x":4.62,"y":5.1},{"s":"orange","x":4.79,"y":5.38},{"s":"orange","x":4.93,"y":5.16},{"s":"orange","x":5.07,"y":5.24},{"s":"orange","x":5.23,"y":4.81},{"s":"orange","x":5.4,"y":4.25},{"s":"orange","x":5.56,"y":3.54},{"s":"orange","x":5.73,"y":2.9},{"s":"orange","x":5.89,"y":2.55},{"s":"orange","x":6.06,"y":2.12},{"s":"orange","x":6.28,"y":1.7},{"s":"orange","x":6.45,"y":1.55},{"s":"orange","x":6.67,"y":1.27},{"s":"orange","x":6.83,"y":0.99},{"s":"orange","x":7.16,"y":0.7},{"s":"orange","x":7.33,"y":0.7},{"s":"orange","x":7.44,"y":0.42},{"s":"orange","x":8.0,"y":0.3},{"s":"orange","x":9.0,"y":0.2},{"s":"orange","x":10,"y":0.1},{"s":"orange","x":11,"y":0.03},{"s":"orange","x":12,"y":-0.05},{"s":"orange","x":14.23,"y":-0.08},
{"s":"blue","x":2.69,"y":-0.08},{"s":"blue","x":4.0,"y":-0.07},{"s":"blue","x":4.13,"y":0.35},{"s":"blue","x":4.4,"y":0.28},{"s":"blue","x":4.57,"y":0.42},{"s":"blue","x":4.73,"y":0.49},{"s":"blue","x":4.9,"y":0.85},{"s":"blue","x":5.07,"y":1.27},{"s":"blue","x":5.23,"y":1.7},{"s":"blue","x":5.4,"y":2.12},{"s":"blue","x":5.56,"y":2.55},{"s":"blue","x":5.78,"y":2.9},{"s":"blue","x":6.0,"y":3.25},{"s":"blue","x":6.17,"y":3.25},{"s":"blue","x":6.39,"y":3.18},{"s":"blue","x":6.61,"y":3.11},{"s":"blue","x":6.94,"y":3.04},{"s":"blue","x":7.05,"y":2.97},{"s":"blue","x":7.27,"y":2.83},{"s":"blue","x":7.38,"y":2.69},{"s":"blue","x":7.55,"y":2.69},{"s":"blue","x":7.83,"y":2.26},{"s":"blue","x":8.16,"y":1.84},{"s":"blue","x":8.43,"y":1.49},{"s":"blue","x":8.66,"y":1.34},{"s":"blue","x":9.21,"y":1.13},{"s":"blue","x":9.76,"y":0.92},{"s":"blue","x":10.31,"y":0.73},{"s":"blue","x":10.87,"y":0.56},{"s":"blue","x":11.19,"y":0.49},{"s":"blue","x":11.97,"y":0.21},{"s":"blue","x":12.4,"y":0.14},{"s":"blue","x":12.85,"y":0.0},{"s":"blue","x":13.0,"y":-0.05},
{"s":"purple","x":-0.82,"y":-0.08},{"s":"purple","x":-0.02,"y":-0.08},{"s":"purple","x":0.06,"y":0.48},{"s":"purple","x":0.2,"y":0.3},{"s":"purple","x":0.37,"y":0.07},{"s":"purple","x":0.52,"y":0.27},{"s":"purple","x":0.65,"y":0.15},{"s":"purple","x":0.77,"y":-0.07},{"s":"purple","x":1.14,"y":-0.07},{"s":"purple","x":1.37,"y":0.42},{"s":"purple","x":1.64,"y":0.99},{"s":"purple","x":1.97,"y":1.55},{"s":"purple","x":2.19,"y":2.12},{"s":"purple","x":2.3,"y":2.9},{"s":"purple","x":2.41,"y":5.0},{"s":"purple","x":2.58,"y":9.5},{"s":"purple","x":2.74,"y":13.7},{"s":"purple","x":2.93,"y":14.87},{"s":"purple","x":3.04,"y":13.2},{"s":"purple","x":3.11,"y":11},{"s":"purple","x":3.21,"y":8.07},{"s":"purple","x":3.3,"y":6.2},{"s":"purple","x":3.38,"y":5.0},{"s":"purple","x":3.46,"y":3.1},{"s":"purple","x":3.57,"y":1.0},{"s":"purple","x":3.7,"y":0.3},{"s":"purple","x":3.85,"y":-0.05},{"s":"purple","x":14.6,"y":-0.08}
],
"t":[{"x":-1.31,"y":1.42,"label":"(C)"}]
},
"layer":[
{"data":{"name":"k"},"mark":{"type":"line","color":"#000000","strokeWidth":0.9,"clip":false},
 "encoding":{
  "x":{"field":"x","type":"quantitative","scale":{"domain":[-2,16],"nice":false,"zero":false},"axis":{"orient":"bottom","values":[-2,0,2,4,6,8,10,12,14,16],"labelPadding":20,"title":"ϕ","titleFontStyle":"italic","titlePadding":6,"labelFlush":false}},
  "y":{"field":"y","type":"quantitative","scale":{"domain":[0,20],"nice":false,"zero":false},"axis":{"orient":"left","values":[0,2,4,6,8,10,12,14,16,18,20],"labelPadding":17,"title":"Fractional abundance [%]","titlePadding":6,"labelFlush":false}},
  "detail":{"field":"s","type":"nominal"}}},
{"data":{"name":"c"},"mark":{"type":"line","strokeWidth":1.6,"clip":false},
 "encoding":{
  "x":{"field":"x","type":"quantitative","axis":null},
  "y":{"field":"y","type":"quantitative","axis":null},
  "color":{"field":"s","type":"nominal","scale":{"domain":["yellow","orange","blue","purple"],"range":["#EDB120","#D95319","#0072BD","#7E2F8E"]},"legend":null}}},
{"data":{"name":"t"},"mark":{"type":"text","font":"Open Sans","fontSize":26,"color":"#595959","align":"center","baseline":"middle"},
 "encoding":{
  "x":{"field":"x","type":"quantitative","axis":{"orient":"top","values":[-2,0,2,4,6,8,10,12,14,16],"labels":false,"title":null}},
  "y":{"field":"y","type":"quantitative","axis":{"orient":"right","values":[0,2,4,6,8,10,12,14,16,18,20],"labels":false,"title":null}},
  "text":{"field":"label","type":"nominal"}}}
],
"resolve":{"axis":{"x":"independent","y":"independent"}}
}
